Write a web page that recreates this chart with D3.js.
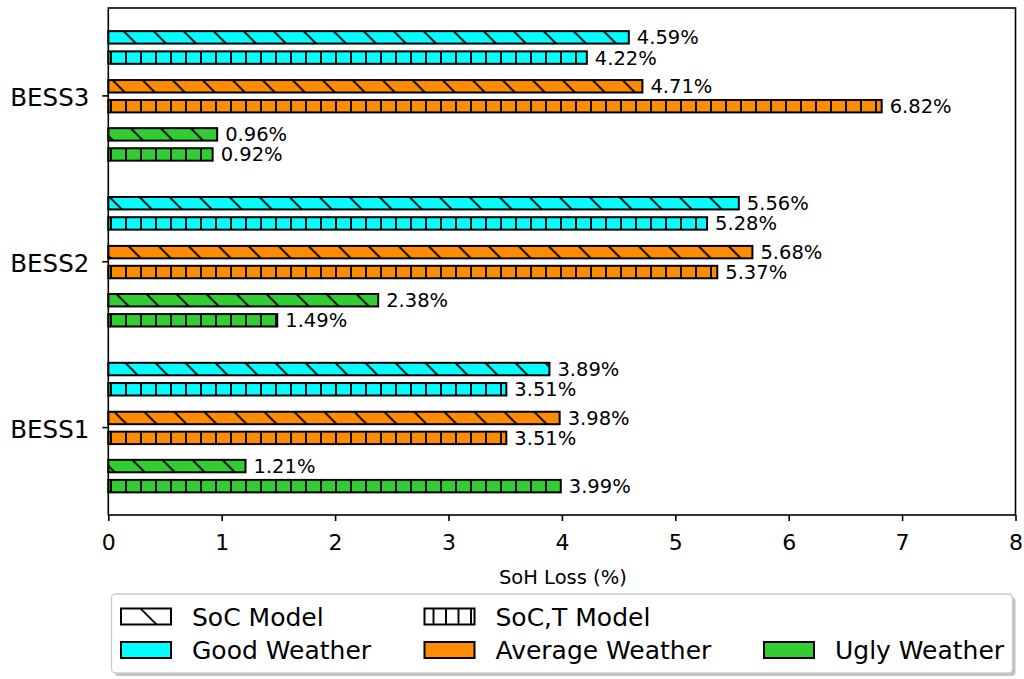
<!DOCTYPE html>
<html>
<head>
<meta charset="utf-8">
<script src="https://cdn.jsdelivr.net/npm/d3@7"></script>
<style>
  html, body { margin: 0; padding: 0; background: #fff; }
  svg { display: block; font-family: "DejaVu Sans", sans-serif; }
</style>
</head>
<body>
<svg id="chart" width="1024" height="679"></svg>
<script>
// ---- data ----
const categories = ["BESS1", "BESS2", "BESS3"];
const socGood  = [3.89, 5.56, 4.59];
const soctGood = [3.51, 5.28, 4.22];
const socAvg   = [3.98, 5.68, 4.71];
const soctAvg  = [3.51, 5.37, 6.82];
const socUgly  = [1.21, 2.38, 0.96];
const soctUgly = [3.99, 1.49, 0.92];
const xTicks = [0, 1, 2, 3, 4, 5, 6, 7, 8];
const xLabel = "SoH Loss (%)";
const weatherNames = ["Good Weather", "Average Weather", "Ugly Weather"];
const modelNames = ["SoC Model", "SoC,T Model"];

// ---- styles ----
const colors = { good: "#00ffff", avg: "#ff8c00", ugly: "#32cd32" };
const series = [
  { values: socGood,  color: colors.good, hatch: "diag", offset: 0.35 },
  { values: soctGood, color: colors.good, hatch: "vert", offset: 0.228 },
  { values: socAvg,   color: colors.avg,  hatch: "diag", offset: 0.055 },
  { values: soctAvg,  color: colors.avg,  hatch: "vert", offset: -0.065 },
  { values: socUgly,  color: colors.ugly, hatch: "diag", offset: -0.235 },
  { values: soctUgly, color: colors.ugly, hatch: "vert", offset: -0.356 }
];
const barH = 0.075;

const svg = d3.select("#chart");
const mLeft = 108.3, mRight = 1015.5, mTop = 8, mBottom = 515;

const x = d3.scaleLinear().domain([0, 8]).range([mLeft, mRight]);
const y = d3.scaleLinear().domain([-0.53, 2.527]).range([mBottom, mTop]);

// patterns
const defs = svg.append("defs");
const pd = defs.append("pattern").attr("id", "hatch-diag")
  .attr("patternUnits", "userSpaceOnUse").attr("width", 30).attr("height", 30)
  .attr("patternTransform", "translate(2.5,0)");
pd.append("path").attr("d", "M-5,-5 L35,35 M25,-5 L35,5 M-5,25 L5,35")
  .attr("stroke", "#000").attr("stroke-width", 1.9).attr("fill", "none");
const pv = defs.append("pattern").attr("id", "hatch-vert")
  .attr("patternUnits", "userSpaceOnUse").attr("width", 15).attr("height", 15)
  .attr("patternTransform", "translate(6,0)");
pv.append("path").attr("d", "M0,-2 L0,17 M15,-2 L15,17")
  .attr("stroke", "#000").attr("stroke-width", 1.9).attr("fill", "none");
const pd2 = defs.append("pattern").attr("id", "hatch-diag-leg")
  .attr("patternUnits", "userSpaceOnUse").attr("width", 36).attr("height", 36)
  .attr("patternTransform", "translate(0,0)");
pd2.append("path").attr("d", "M-5,-5 L41,41 M31,-5 L41,5 M-5,31 L5,41")
  .attr("stroke", "#000").attr("stroke-width", 1.9).attr("fill", "none");
const pv2 = defs.append("pattern").attr("id", "hatch-vert-leg")
  .attr("patternUnits", "userSpaceOnUse").attr("width", 12.5).attr("height", 15)
  .attr("patternTransform", "translate(121,0)");
pv2.append("path").attr("d", "M0,-2 L0,17 M12.5,-2 L12.5,17")
  .attr("stroke", "#000").attr("stroke-width", 1.9).attr("fill", "none");

// bars
const plot = svg.append("g");
series.forEach(s => {
  const data = s.values.map((v, i) => ({ v, i }));
  const g = plot.append("g");
  g.selectAll("rect.fill").data(data).join("rect").attr("class", "fill")
    .attr("x", x(0))
    .attr("y", d => y(d.i + s.offset + barH / 2))
    .attr("width", d => x(d.v) - x(0))
    .attr("height", d => y(d.i + s.offset - barH / 2) - y(d.i + s.offset + barH / 2))
    .attr("fill", s.color);
  g.selectAll("rect.hatch").data(data).join("rect").attr("class", "hatch")
    .attr("x", x(0))
    .attr("y", d => y(d.i + s.offset + barH / 2))
    .attr("width", d => x(d.v) - x(0))
    .attr("height", d => y(d.i + s.offset - barH / 2) - y(d.i + s.offset + barH / 2))
    .attr("fill", `url(#hatch-${s.hatch})`)
    .attr("stroke", "#000").attr("stroke-width", 2);
  g.selectAll("text").data(data).join("text")
    .attr("x", d => x(d.v) + 8)
    .attr("y", d => y(d.i + s.offset))
    .attr("dy", "0.36em")
    .attr("font-size", 19.5)
    .attr("fill", "#000")
    .text(d => d.v.toFixed(2) + "%");
});

// frame
svg.append("rect").attr("x", mLeft).attr("y", mTop)
  .attr("width", mRight - mLeft).attr("height", mBottom - mTop)
  .attr("fill", "none").attr("stroke", "#000").attr("stroke-width", 1.6);

// x axis
const xAxis = d3.axisBottom(x).tickValues(xTicks).tickSize(6).tickPadding(13).tickFormat(d3.format("d"));
const gx = svg.append("g").attr("transform", `translate(0,${mBottom})`).call(xAxis);
gx.select(".domain").remove();
gx.selectAll(".tick line").attr("stroke", "#000").attr("stroke-width", 1.6);
gx.selectAll(".tick text").attr("font-size", 22).attr("font-family", "DejaVu Sans").attr("fill", "#000");

// y axis
const yAxis = d3.axisLeft(y).tickValues([0, 1, 2]).tickSize(6).tickPadding(13)
  .tickFormat(d => categories[d]);
const gy = svg.append("g").attr("transform", `translate(${mLeft},0)`).call(yAxis);
gy.select(".domain").remove();
gy.selectAll(".tick line").attr("stroke", "#000").attr("stroke-width", 1.6);
gy.selectAll(".tick text").attr("font-size", 24.5).attr("font-family", "DejaVu Sans").attr("fill", "#000")
  .attr("dy", "0.42em");

// x label
svg.append("text").attr("x", (mLeft + mRight) / 2 + 1).attr("y", 584)
  .attr("text-anchor", "middle").attr("font-size", 19.5).text(xLabel);

// legend
const lg = svg.append("g");
lg.append("rect").attr("x", 114.5).attr("y", 597).attr("width", 901).attr("height", 79)
  .attr("rx", 4).attr("fill", "#999").attr("opacity", 0.6);
lg.append("rect").attr("x", 111.5).attr("y", 594).attr("width", 901).attr("height", 79)
  .attr("rx", 4).attr("fill", "#fff").attr("stroke", "#ccc").attr("stroke-width", 1.3);

const legendItems = [
  { label: modelNames[0], fill: "#fff", hatch: "diag-leg", px: 121, row: 0 },
  { label: modelNames[1], fill: "#fff", hatch: "vert-leg", px: 424.5, row: 0 },
  { label: weatherNames[0], fill: colors.good, hatch: null, px: 121, row: 1 },
  { label: weatherNames[1], fill: colors.avg, hatch: null, px: 424.5, row: 1 },
  { label: weatherNames[2], fill: colors.ugly, hatch: null, px: 764, row: 1 }
];
const rowY = [616.5, 650];
legendItems.forEach(it => {
  const cy = rowY[it.row];
  lg.append("rect").attr("x", it.px).attr("y", cy - 8).attr("width", 50).attr("height", 16)
    .attr("fill", it.fill);
  lg.append("rect").attr("x", it.px).attr("y", cy - 8).attr("width", 50).attr("height", 16)
    .attr("fill", it.hatch ? `url(#hatch-${it.hatch})` : "none")
    .attr("stroke", "#000").attr("stroke-width", 2);
  lg.append("text").attr("x", it.px + 71).attr("y", cy).attr("dy", "0.36em")
    .attr("font-size", 25).text(it.label);
});
</script>
</body>
</html>
